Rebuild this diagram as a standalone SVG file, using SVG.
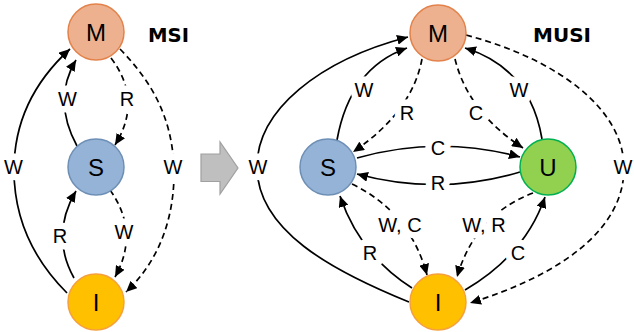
<svg xmlns="http://www.w3.org/2000/svg" width="634" height="332" viewBox="0 0 634 332">
<defs>
<marker id="ah" markerUnits="userSpaceOnUse" markerWidth="12" markerHeight="10" refX="11" refY="5" orient="auto">
<path d="M0,0 L11,5 L0,10 z" fill="#000"/>
</marker>
<style>
.e{fill:none;stroke:#000;stroke-width:1.7;marker-end:url(#ah)}
.d{stroke-dasharray:6 4}
.lb{font-family:"Liberation Sans",Arial,sans-serif;font-size:20px;text-anchor:middle;fill:#000;stroke:#fff;stroke-width:13;stroke-linejoin:round;paint-order:stroke}
.nt{font-family:"Liberation Sans",Arial,sans-serif;font-size:24px;text-anchor:middle;fill:#000}
.tt{font-family:"DejaVu Sans","Liberation Sans",sans-serif;font-weight:bold;font-size:19px;fill:#000}
.m{fill:#EDB18F;stroke:#E3824A;stroke-width:1.5}
.s{fill:#95B3D7;stroke:#6E8FB5;stroke-width:1.5}
.u{fill:#92D050;stroke:#00B050;stroke-width:1.5}
.i{fill:#FFC000;stroke:#F5A03C;stroke-width:1.5}
</style>
</defs>
<rect width="634" height="332" fill="#fff"/>

<g id="connectors">
<!-- left diagram -->
<path class="e" d="M67,293 Q14,240 14,170 T70,49"/>
<path class="e" d="M77,146 Q52,100 76,60"/>
<path class="e d" d="M111,58 Q143,100 115,145"/>
<path class="e d" d="M120,49 C150,80 172,115 174,168 C175,216 160,260 126,292"/>
<path class="e" d="M74,278 Q50,235 76,191"/>
<path class="e d" d="M110,190 Q140,232 115,277"/>
<!-- right diagram -->
<path class="e" d="M409,302 C330,270 258,230 257,168 C256,110 320,60 408,37"/>
<path class="e" d="M337,140 Q350,68 407,48"/>
<path class="e d" d="M422,59 Q412,112 353,152"/>
<path class="e d" d="M455,59 Q468,112 523,148"/>
<path class="e" d="M542,139 Q530,68 465,48"/>
<path class="e d" d="M466,35 C560,60 624,110 624,168 C624,230 560,275 470,303"/>
<path class="e" d="M357,158 Q438,135 520,157"/>
<path class="e" d="M520,172 Q438,196 357,174"/>
<path class="e d" d="M352,184 Q410,212 427,275"/>
<path class="e d" d="M533,193 Q475,215 457,277"/>
<path class="e" d="M412,288 Q360,255 340,196"/>
<path class="e" d="M465,290 Q525,255 545,197"/>

<g id="labels">
<text class="lb" x="13.5" y="174">W</text>
<text class="lb" x="67.5" y="106">W</text>
<text class="lb" x="127" y="106">R</text>
<text class="lb" x="173" y="174">W</text>
<text class="lb" x="60" y="243">R</text>
<text class="lb" x="124" y="239">W</text>

<text class="lb" x="258" y="174">W</text>
<text class="lb" x="364" y="97">W</text>
<text class="lb" x="407" y="120">R</text>
<text class="lb" x="476" y="120">C</text>
<text class="lb" x="519" y="97">W</text>
<text class="lb" x="623" y="174">W</text>
<text class="lb" x="438" y="155">C</text>
<text class="lb" x="438" y="190">R</text>
<text class="lb" x="400" y="232">W, C</text>
<text class="lb" x="484" y="232">W, R</text>
<text class="lb" x="370" y="260">R</text>
<text class="lb" x="518" y="260">C</text>
</g>
</g>

<g id="arrow-block">
<polygon points="201,154 220,154 220,142 238,168 220,194 220,181.5 201,181.5" fill="#BFBFBF" stroke="#A0A0A0" stroke-width="1.2"/>
</g>

<g id="node-M1"><circle class="m" cx="96" cy="32" r="28"/><text class="nt" x="96" y="40.6">M</text></g>
<g id="node-S1"><circle class="s" cx="96" cy="167" r="28"/><text class="nt" x="96" y="175.6">S</text></g>
<g id="node-I1"><circle class="i" cx="96" cy="302" r="28"/><text class="nt" x="96" y="310.6">I</text></g>

<g id="node-M2"><circle class="m" cx="438" cy="33" r="28"/><text class="nt" x="438" y="41.6">M</text></g>
<g id="node-S2"><circle class="s" cx="328" cy="167" r="28"/><text class="nt" x="328" y="175.6">S</text></g>
<g id="node-U2"><circle class="u" cx="548" cy="167" r="28"/><text class="nt" x="548" y="175.6">U</text></g>
<g id="node-I2"><circle class="i" cx="438" cy="302" r="28"/><text class="nt" x="438" y="310.6">I</text></g>

<g id="titles">
<text class="tt" x="148" y="42" textLength="41" lengthAdjust="spacingAndGlyphs">MSI</text>
<text class="tt" x="533" y="42" textLength="58" lengthAdjust="spacingAndGlyphs">MUSI</text>
</g>
</svg>
